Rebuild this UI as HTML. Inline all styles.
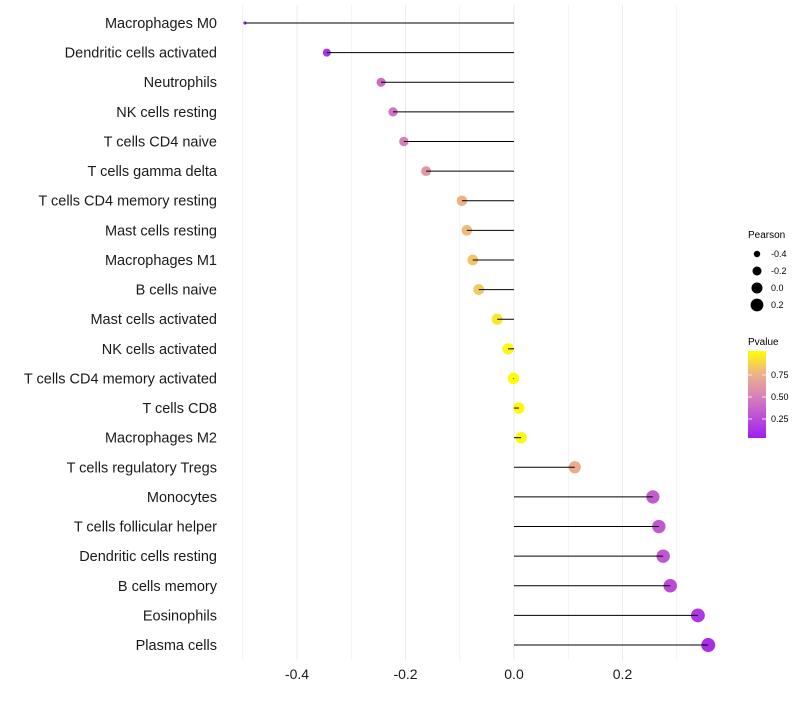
<!DOCTYPE html>
<html><head><meta charset="utf-8"><style>
body{margin:0;background:#fff;font-family:"Liberation Sans",sans-serif;}
</style></head><body>
<svg id="chart" width="800" height="700" xmlns="http://www.w3.org/2000/svg">
<defs><linearGradient id="pg" x1="0" y1="1" x2="0" y2="0">
<stop offset="0" stop-color="#a01ff0"/><stop offset="0.5" stop-color="#d985b8"/><stop offset="0.75" stop-color="#eeb585"/><stop offset="1" stop-color="#ffff00"/></linearGradient></defs>
<g id="grid"></g><g id="marks"></g><g id="labels"></g>
<g font-size="9">
<text x="748" y="238" font-size="10">Pearson</text>
<circle cx="757" cy="254" r="3.2" fill="#000"/><text x="771" y="257">-0.4</text>
<circle cx="757" cy="271" r="4.5" fill="#000"/><text x="771" y="274">-0.2</text>
<circle cx="757" cy="288" r="5.5" fill="#000"/><text x="771" y="291">0.0</text>
<circle cx="757" cy="305" r="6.4" fill="#000"/><text x="771" y="308">0.2</text>
</g>
<g font-size="9">
<text x="748" y="345" font-size="10">Pvalue</text>
<rect x="748" y="351" width="18" height="87" fill="url(#pg)"/>
<g stroke="#fff" stroke-width="0.8"><line x1="748" y1="375" x2="752" y2="375"/><line x1="762" y1="375" x2="766" y2="375"/>
<line x1="748" y1="397" x2="752" y2="397"/><line x1="762" y1="397" x2="766" y2="397"/>
<line x1="748" y1="419" x2="752" y2="419"/><line x1="762" y1="419" x2="766" y2="419"/></g>
<text x="771" y="378">0.75</text><text x="771" y="400">0.50</text><text x="771" y="422">0.25</text>
</g>
</svg>
<script>
const categories=["Macrophages M0","Dendritic cells activated","Neutrophils","NK cells resting","T cells CD4 naive","T cells gamma delta","T cells CD4 memory resting","Mast cells resting","Macrophages M1","B cells naive","Mast cells activated","NK cells activated","T cells CD4 memory activated","T cells CD8","Macrophages M2","T cells regulatory  Tregs","Monocytes","T cells follicular helper","Dendritic cells resting","B cells memory","Eosinophils","Plasma cells"];
const pearson=[-0.496,-0.345,-0.245,-0.223,-0.203,-0.162,-0.096,-0.087,-0.076,-0.065,-0.031,-0.011,-0.001,0.009,0.013,0.112,0.256,0.267,0.275,0.288,0.339,0.358];
const pvalue=[0.02,0.1,0.38,0.42,0.48,0.6,0.74,0.77,0.8,0.82,0.92,0.97,0.99,0.98,0.97,0.7,0.3,0.28,0.27,0.22,0.12,0.08];
const xTicks=[-0.4,-0.2,0,0.2];
const xTickLabels=["-0.4","-0.2","0.0","0.2"];
const NS="http://www.w3.org/2000/svg";
const x=v=>514+v*542.5;
const y=i=>23+i*29.62;
const rad=v=>v<-0.4?1.6:Math.sqrt(Math.max(2.5,32.2+47*v));
function hx(c){return [parseInt(c.slice(1,3),16),parseInt(c.slice(3,5),16),parseInt(c.slice(5,7),16)];}
const stops=[[0,"#a01ff0"],[0.5,"#d985b8"],[0.75,"#eeb585"],[1,"#ffff00"]];
function col(p){let k=0;while(k<stops.length-2&&p>stops[k+1][0])k++;const a=hx(stops[k][1]),b=hx(stops[k+1][1]);const t=Math.min(1,Math.max(0,(p-stops[k][0])/(stops[k+1][0]-stops[k][0])));
return "rgb("+a.map((v,j)=>Math.round(v+(b[j]-v)*t)).join(",")+")";}
function mk(tag,at,parent){const e=document.createElementNS(NS,tag);for(const k in at)e.setAttribute(k,at[k]);parent.appendChild(e);return e;}
const grid=document.getElementById("grid"),marks=document.getElementById("marks"),labels=document.getElementById("labels");
for(let v=-0.5;v<=0.35;v+=0.1){const l=mk("line",{x1:x(v),x2:x(v),y1:5,y2:660,stroke:"#ebebeb","stroke-width":Math.abs(Math.round(v*10))%2==0?1:0.6},grid);

}
xTicks.forEach((v,i)=>{const t=mk("text",{x:x(v),y:679,"text-anchor":"middle","font-size":14,fill:"#1a1a1a"},labels);t.textContent=xTickLabels[i];

});
categories.forEach((c,i)=>{
const t=mk("text",{x:217,y:y(i)+5,"text-anchor":"end","font-size":14.5,fill:"#1a1a1a"},labels);t.textContent=c;


const c1=mk("circle",{cx:x(pearson[i]),cy:y(i),r:rad(pearson[i]),fill:col(pvalue[i])},marks);


const l=mk("line",{x1:x(0),x2:x(pearson[i]),y1:y(i),y2:y(i),stroke:"#000","stroke-width":1},marks);


});
</script>
</body></html>
